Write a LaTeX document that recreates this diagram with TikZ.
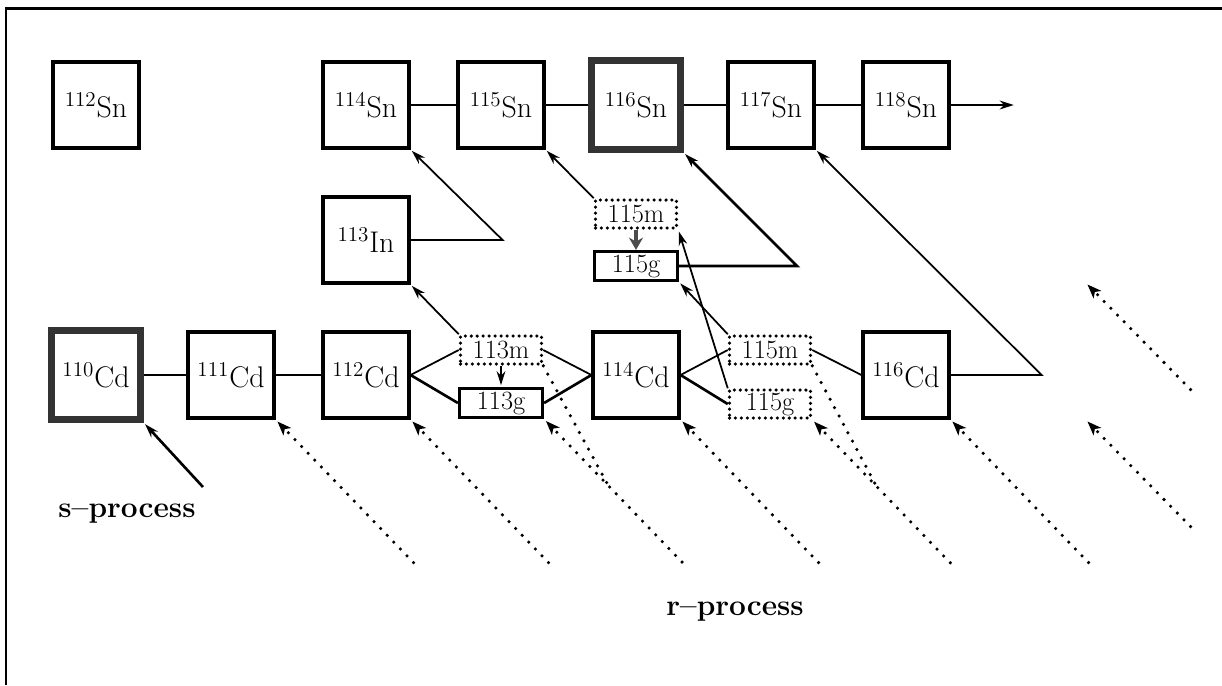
\documentclass[tikz,border=0pt]{standalone}
\usepackage{fontspec}
\usepackage{tikz}
\usetikzlibrary{arrows.meta}
\usetikzlibrary{positioning}
\tikzset{
    arrow/.style={-{Stealth[length=8pt,width=5pt]}, shorten >=1pt, line width=1pt},
    bigarrow/.style={-{Stealth[length=7pt,width=8pt]}, line width=2.8pt, draw=black!70},
    link/.style={line width=1pt},
    rarrow/.style={-{Stealth[length=8pt,width=6pt,inset=2pt]}, line width=2pt, line cap=round,
      dash pattern=on 0pt off 5.4pt, shorten >=1.5pt},
    rline/.style={line width=2pt, line cap=round, dash pattern=on 0pt off 5.4pt},
    nucbox/.style = {
      draw,
      line width=1.8pt,
      rectangle,
      minimum size=1.72cm,
      inner sep=0pt,
      font=\fontsize{17}{20}\selectfont
    },
    thickbox/.style = {
      nucbox,
      line width=3.8pt,
      draw=black!80,
      minimum size=1.78cm
    },
    isobox/.style = {
      draw,
      line width=1.8pt,
      rectangle,
      minimum width=1.66cm,
      minimum height=0.58cm,
      inner sep=0pt,
      font=\fontsize{15}{17}\selectfont
    },
    isodotbox/.style = {
      isobox,
      line width=2pt,
      line cap=round,
      dash pattern=on 0pt off 3.4pt,
      minimum width=1.62cm,
      minimum height=0.56cm
    },
    process/.style = {inner sep=0pt, font=\fontsize{17}{20}\selectfont\bfseries},
    frame/.style = {line width=1.7pt}
}

\begin{document}
\begin{tikzpicture}[node distance=2.7cm, on grid]
      \useasboundingbox (0,0) rectangle (24.44,-13.7);
      \draw[frame] (0.12,-13.7) -- (0.12,-0.16) -- (24.44,-0.16);

      \node[thickbox] (cd110) at (1.92,-7.5) {$^{110}$Cd};
      \node[nucbox, right=of cd110] (cd111) {$^{111}$Cd};
      \node[nucbox, right=of cd111] (cd112) {$^{112}$Cd};
      \node[isodotbox, above right=0.5cm and 2.7cm of cd112] (cd113m) {113m};
      \node[isobox, below right=0.56cm and 2.7cm of cd112] (cd113g) {113g};
      \node[nucbox, right=5.4cm of cd112] (cd114) {$^{114}$Cd};
      \node[isodotbox, above right=0.5cm and 2.68cm of cd114] (cd115m) {115m};
      \node[isodotbox, below right=0.58cm and 2.68cm of cd114] (cd115g) {115g};
      \node[nucbox, right=5.4cm of cd114] (cd116) {$^{116}$Cd};

      \node[nucbox, above=of cd112] (in113) {$^{113}$In};
      \node[nucbox, above=5.4cm of cd110] (sn112) {$^{112}$Sn};
      \node[nucbox, above=of in113] (sn114) {$^{114}$Sn};
      \node[nucbox, right=of sn114] (sn115) {$^{115}$Sn};
      \node[thickbox, right=of sn115] (sn116) {$^{116}$Sn};
      \node[nucbox, right=of sn116] (sn117) {$^{117}$Sn};
      \node[nucbox, right=of sn117] (sn118) {$^{118}$Sn};
      \node[isodotbox, below=2.18cm of sn116] (in115m) {115m};
      \node[isobox, below=3.22cm of sn116] (in115g) {115g};

      \draw[link] (cd110) -- (cd111);
      \draw[link] (cd111) -- (cd112);
      \draw[link] (cd112.east) -- (cd113m.west);
      \draw[link, line width=1.5pt] (cd112.east) -- (cd113g.west);
      \draw[link] (cd113m.east) -- (cd114.west);
      \draw[link, line width=1.5pt] (cd113g.east) -- (cd114.west);
      \draw[link] (cd114.east) -- (cd115m.west);
      \draw[link, line width=1.5pt] (cd114.east) -- (cd115g.west);
      \draw[link] (cd115m.east) -- (cd116.west);
      \draw[arrow] (cd116.east) -- ++(1.82,0) -- (sn117.south east);

      \draw[arrow, line width=0.8pt] (cd113m) -- (cd113g);
      \draw[arrow] (cd113m.north west) -- (in113.south east);
      \draw[arrow] (in113.east) -- ++(1.84,0) -- (sn114.south east);

      \draw[link] (sn114) -- (sn115);
      \draw[link] (sn115) -- (sn116);
      \draw[link, line width=1.4pt] (sn116) -- (sn117);
      \draw[link] (sn117) -- (sn118);
      \coordinate[right=1.3cm of sn118.east] (snout);
      \draw[arrow, line width=1.4pt] (sn118) -- (snout);

      \draw[arrow] (in115m.north west) -- (sn115.south east);
      \draw[bigarrow] (in115m) -- (in115g);
      \draw[arrow, line width=1.5pt] (in115g.east) -- ++(2.36,0) -- (sn116.south east);
      \draw[arrow] (cd115g.north west) -- (in115m.south east);
      \draw[arrow] (cd115m.north west) -- (in115g.south east);

      \foreach \n in {cd111, cd112, cd113g, cd114, cd115g, cd116} {
        \path (\n.south east) ++(2.76,-2.86) coordinate (\n-r);
        \draw[rarrow] (\n-r) -- (\n.south east);
      }
      \foreach \n/\m in {cd113g/cd113m, cd115g/cd115m} {
        \path (\n.south east) ++(1.3,-1.36) coordinate (\n-j);
        \draw[rline] (\m.south east) -- (\n-j);
      }

      \coordinate[right=of cd116.south east] (cd117);
      \coordinate[above=2.74cm of cd117] (in117);
      \foreach \n in {cd117, in117} {
        \path (\n) ++(2.1,-2.14) coordinate (\n-r);
        \draw[rarrow] (\n-r) -- (\n);
      }

      \node[process, below right=2.78cm and 0.62cm of cd110] (sproc) {s--process};
      \coordinate[above right=0.54cm and 1.52cm of sproc] (sin);
      \draw[arrow, line width=1.5pt] (sin) -- (cd110.south east);

      \node[process, below right=4.74cm and 1.98cm of cd114] (rproc) {r--process};
\end{tikzpicture}
\end{document}
